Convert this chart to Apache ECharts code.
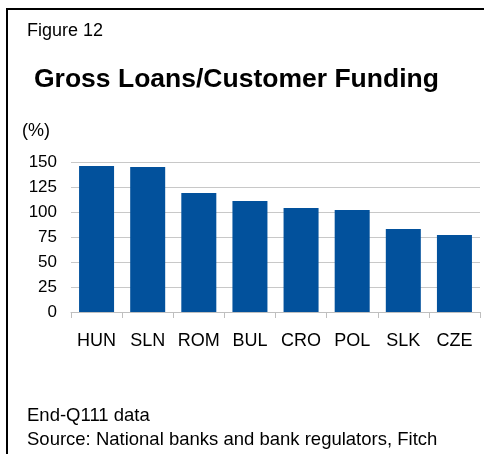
<!DOCTYPE html>
<html>
<head>
<meta charset="utf-8">
<script src="https://cdn.jsdelivr.net/npm/echarts@6/dist/echarts.min.js"></script>
<style>
  html, body { margin: 0; padding: 0; background: #fff; }
  #chart { width: 484px; height: 454px; }
</style>
</head>
<body>
<div id="chart"></div>
<script>
// Gross loans to customer funding ratio by country (%), end-Q1 2011
const countries = ['HUN', 'SLN', 'ROM', 'BUL', 'CRO', 'POL', 'SLK', 'CZE'];
const ratios = [146, 145, 119, 111, 104, 102, 83, 77];
const yTicks = [0, 25, 50, 75, 100, 125, 150];

const FONT = '"Liberation Sans", Arial, sans-serif';

function plainText(text, left, top, size, weight) {
  return {
    text: text, left: left, top: top, padding: 0,
    textStyle: { fontFamily: FONT, fontSize: size, fontWeight: weight || 'normal', color: '#000' }
  };
}

const chart = echarts.init(document.getElementById('chart'), null, { renderer: 'canvas' });

chart.setOption({
  backgroundColor: '#ffffff',
  animation: false,
  title: [
    plainText('Figure 12', 27, 22, 18),
    plainText('Gross Loans/Customer Funding', 34, 66, 26.5, 'bold'),
    plainText('(%)', 22, 122, 18),
    plainText('End-Q111 data', 27, 406, 18.5),
    plainText('Source: National banks and bank regulators, Fitch', 27, 430, 18.5)
  ],
  graphic: [
    // frame: top and left rules
    { type: 'line', shape: { x1: 6, y1: 9, x2: 484, y2: 9 },
      style: { stroke: '#000', lineWidth: 2 } },
    { type: 'line', shape: { x1: 7, y1: 8, x2: 7, y2: 454 },
      style: { stroke: '#000', lineWidth: 2 } }
  ],
  grid: { left: 71, right: 4, top: 162, bottom: 142, containLabel: false },
  xAxis: {
    type: 'category',
    data: countries,
    axisLine: { show: true, lineStyle: { color: '#bfbfbf', width: 1 } },
    axisTick: { show: true, length: 6, lineStyle: { color: '#bfbfbf' } },
    axisLabel: { fontFamily: FONT, fontSize: 18, color: '#000', margin: 20, interval: 0 }
  },
  yAxis: {
    type: 'value',
    min: yTicks[0],
    max: yTicks[yTicks.length - 1],
    interval: yTicks[1] - yTicks[0],
    axisLine: { show: false },
    axisTick: { show: false },
    splitLine: { show: true, lineStyle: { color: '#c8c8c8', width: 1 } },
    axisLabel: { fontFamily: FONT, fontSize: 17, color: '#000', margin: 14 }
  },
  series: [{
    type: 'bar',
    data: ratios,
    barWidth: 35,
    itemStyle: { color: '#02519c' }
  }]
});
</script>
</body>
</html>
